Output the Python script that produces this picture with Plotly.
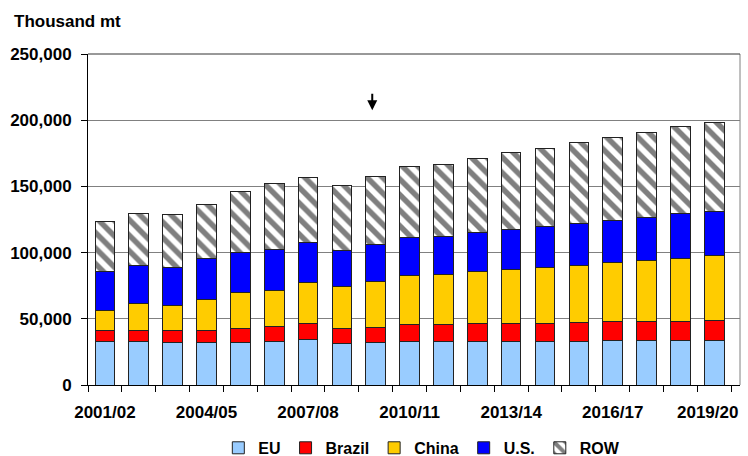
import plotly.graph_objects as go

years = ["2001/02", "2002/03", "2003/04", "2004/05", "2005/06", "2006/07", "2007/08",
         "2008/09", "2009/10", "2010/11", "2011/12", "2012/13", "2013/14", "2014/15",
         "2015/16", "2016/17", "2017/18", "2018/19", "2019/20"]
eu = [32700, 32700, 32000, 32200, 32200, 32700, 34700, 31500, 32000, 33200, 33200, 33200,
      33200, 33200, 33200, 33700, 33700, 33700, 33700]
brazil = [8100, 8600, 9300, 9300, 10300, 11300, 11900, 10800, 11700, 12800, 12800, 13600,
          13600, 13600, 13800, 13900, 13900, 14600, 14800]
china = [15100, 19900, 18900, 23400, 27200, 27500, 30700, 31900, 34700, 36500, 37500, 38800,
         40300, 41800, 43300, 44700, 46500, 47300, 49400]
us = [30200, 29200, 28700, 30500, 30500, 31000, 30400, 27700, 27700, 28700, 29000, 29400,
      30400, 31200, 31800, 32000, 32700, 34000, 33200]
row = [37200, 39500, 40200, 41300, 46000, 49800, 49100, 49100, 51300, 53600, 54300, 56100,
       57900, 58900, 60800, 62700, 64200, 65400, 67400]
tick_labels = ["2001/02", "2004/05", "2007/08", "2010/11", "2013/14", "2016/17", "2019/20"]
y_ticks = [0, 50000, 100000, 150000, 200000, 250000]

FONT = "Liberation Sans, Arial, sans-serif"
edge = dict(color="#222222", width=1)
bold17 = dict(family=FONT, size=17, color="black", weight="bold")
bold16 = dict(family=FONT, size=16, color="black", weight="bold")

n = len(years)
last_label = tick_labels[-1]

fig = go.Figure()
series = [("EU", eu, "#99CCFF"), ("Brazil", brazil, "#FF0000"),
          ("China", china, "#FFCC00"), ("U.S.", us, "#0000FF")]
for name, vals, col in series:
    fig.add_trace(go.Bar(x=years, y=vals, name=name, marker=dict(color=col, line=edge)))
fig.add_trace(go.Bar(x=years, y=row, name="ROW",
                     marker=dict(color="white", line=edge,
                                 pattern=dict(shape="\\", fgcolor="black", bgcolor="white",
                                              size=11, solidity=0.5))))

fig.update_layout(
    barmode="stack", bargap=0.42,
    width=748, height=456,
    margin=dict(l=88, r=8, t=54, b=71, autoexpand=False),
    paper_bgcolor="white", plot_bgcolor="white",
    font=dict(family=FONT, size=16, color="black"),
    showlegend=True,
    legend=dict(orientation="h", x=0.512, xanchor="center", y=-0.19, yanchor="middle",
                font=bold16, traceorder="normal", itemwidth=30, tracegroupgap=0),
    xaxis=dict(
        type="category", tickmode="array", tickvals=years,
        ticktext=[y if (y in tick_labels and y != last_label) else "" for y in years],
        tickangle=0, automargin=False,
        tickson="boundaries", ticks="outside", ticklen=6, tickcolor="black",
        ticklabelstandoff=12,
        showline=True, linecolor="black", linewidth=1, mirror=False,
        tickfont=bold17, showgrid=False,
    ),
)
fig.update_yaxes(
    range=[0, 250000], tickmode="array", tickvals=y_ticks, tickformat=",",
    ticks="outside", ticklen=6, tickcolor="black", automargin=False,
    ticklabelstandoff=6,
    showline=True, linecolor="black", linewidth=1,
    showgrid=True, gridcolor="#808080", gridwidth=1,
    tickfont=bold17, zeroline=False,
)
# last category label, nudged inward so it stays inside the chart as in the original
fig.add_annotation(x=years.index(last_label) - 0.2, y=0, xref="x", yref="paper",
                   text=last_label, showarrow=False, yanchor="middle", yshift=-27,
                   font=bold17)
# plot-area border (top and right)
fig.add_shape(type="line", xref="paper", yref="paper", x0=1, x1=1, y0=0, y1=1,
              line=dict(color="#808080", width=1))
fig.add_shape(type="line", xref="paper", yref="paper", x0=0, x1=1, y0=1, y1=1,
              line=dict(color="#333333", width=1))

fig.add_annotation(text="Thousand mt", xref="paper", yref="paper", x=-0.1166, y=1.097,
                   xanchor="left", yanchor="middle", showarrow=False, font=bold17)
fig.add_annotation(x="2009/10", y=207600, text="", showarrow=True, arrowhead=2,
                   arrowsize=1, arrowwidth=2, arrowcolor="black", ax=0, ay=-18, xshift=-3.5)

fig.write_html("out.html", config=dict(displayModeBar=False),
               post_script="document.body.style.margin='0';"
                           "document.documentElement.style.overflow='hidden';")
